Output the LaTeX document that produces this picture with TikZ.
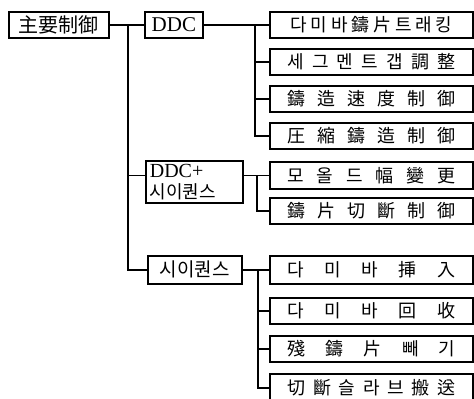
\documentclass[tikz,border=0pt]{standalone}
\usepackage{fontspec}
\setmainfont{Liberation Serif}
\newfontfamily\kr{Noto Sans CJK KR}
\newcommand\rtxt[2][168pt]{{\kr\fontsize{18}{20}\selectfont\makebox[#1][s]{#2}}}
\begin{document}
\begin{tikzpicture}[x=1pt,y=-1pt,
  box/.style={draw,line width=1.7pt,rectangle,inner sep=0pt,anchor=north west},
  rbox/.style={box,minimum width=203pt},
  conn/.style={line width=1.6pt}]
\useasboundingbox (0,0) rectangle (474,399);
% left column
\node[box,minimum width=100pt,minimum height=26pt] (main) at (8,11)
  {{\kr\fontsize{20}{22}\selectfont 主要制御}};
\node[box,minimum width=58pt,minimum height=26pt] (ddc) at (144,11)
  {\fontsize{21}{22}\selectfont DDC};
\node[box,minimum height=42pt,text width=89pt,inner xsep=4pt,inner ysep=1pt,align=left,
  font=\fontsize{20}{18}\selectfont] (ddcseq) at (145,160)
  {DDC+\\[3pt]{\kr\fontsize{18}{18}\selectfont 시이퀀스}};
\node[box,minimum width=94pt,minimum height=28pt] (seq) at (147,255)
  {{\kr\fontsize{19}{20}\selectfont 시이퀀스}};
% right column
\node[rbox,minimum height=26pt] (r1) at (269,11) {\rtxt[162pt]{다 미 바 鑄 片 트 래 킹}};
\node[rbox,minimum height=26pt] (r2) at (269,48) {\rtxt{세 그 멘 트 갭 調 整}};
\node[rbox,minimum height=26pt] (r3) at (269,85) {\rtxt{鑄 造 速 度 制 御}};
\node[rbox,minimum height=26pt] (r4) at (269,122) {\rtxt{圧 縮 鑄 造 制 御}};
\node[rbox,minimum height=27pt] (r5) at (269,161) {\rtxt{모 올 드 幅 變 更}};
\node[rbox,minimum height=26pt] (r6) at (269,197) {\rtxt{鑄 片 切 斷 制 御}};
\node[rbox,minimum height=28pt] (r7) at (269,255) {\rtxt{다 미 바 挿 入}};
\node[rbox,minimum height=26pt] (r8) at (269,297) {\rtxt{다 미 바 回 收}};
\node[rbox,minimum height=26pt] (r9) at (269,335) {\rtxt{殘 鑄 片 빼 기}};
\node[rbox,minimum height=28pt] (r10) at (269,373) {\rtxt{切 斷 슬 라 브 搬 送}};
% junctions
\path (ddc.west) ++(-16,0) coordinate (j1);
\path (r1.west) ++(-14,0) coordinate (j2);
\path (r5.west) ++(-12,0) coordinate (j3);
\path (r7.west) ++(-11,0) coordinate (j4);
% connectors
\draw[conn] (main.east) -- (ddc.west);
\draw[conn] (j1) |- (ddcseq.west |- r5.west);
\draw[conn] (j1) |- (seq.west);
\draw[conn] (ddc.east) -- (r1.west);
\foreach \r in {r2,r3,r4} \draw[conn] (j2) |- (\r.west);
\draw[conn] (ddcseq.east |- r5.west) -- (r5.west);
\draw[conn] (j3) |- (r6.west);
\draw[conn] (seq.east) -- (r7.west);
\foreach \r in {r8,r9,r10} \draw[conn] (j4) |- (\r.west);
\end{tikzpicture}
\end{document}
